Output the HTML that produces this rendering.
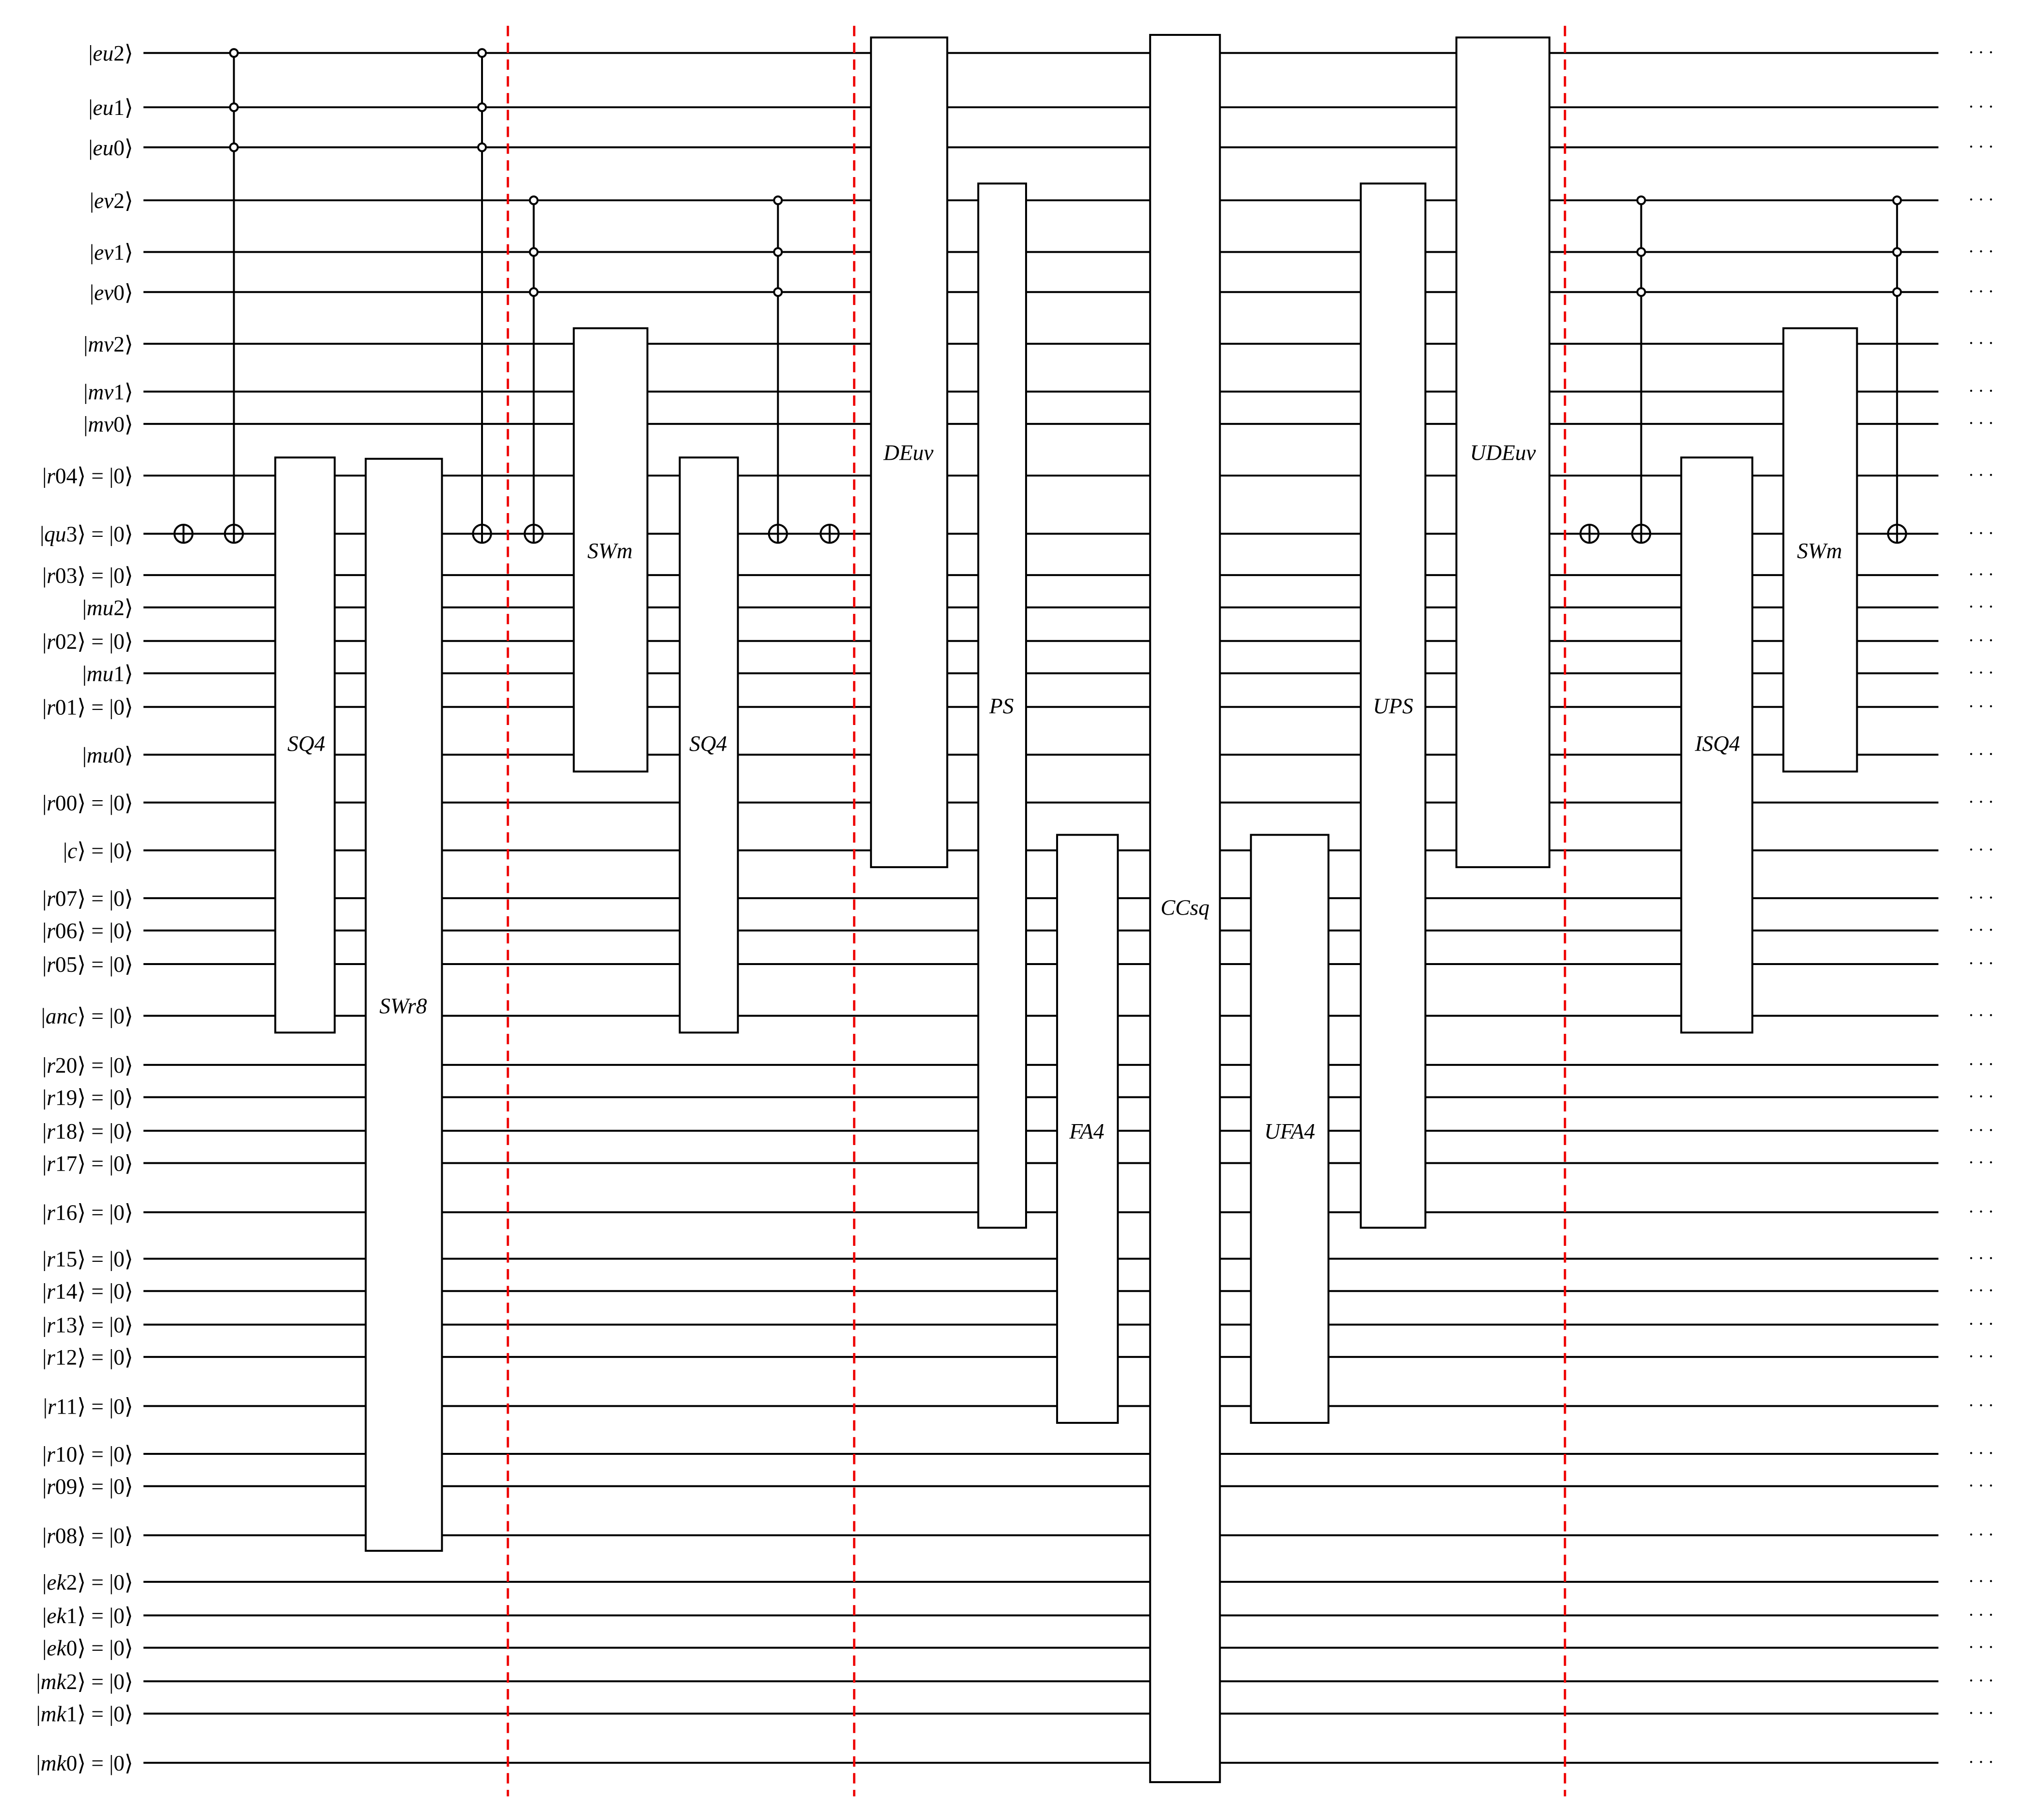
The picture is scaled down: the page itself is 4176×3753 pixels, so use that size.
<!DOCTYPE html>
<html><head><meta charset="utf-8"><style>
html,body{margin:0;padding:0;background:#fff}
svg{display:block}
text{font-family:"Liberation Serif",serif;font-size:17px;fill:#000}
.l{text-anchor:end}
.c{text-anchor:middle}
#ell text{letter-spacing:3px;font-size:14px}
</style></head><body>
<svg id="s" width="4176" height="3753" viewBox="0 0 1567 1408.3" preserveAspectRatio="none" xmlns="http://www.w3.org/2000/svg">
<g id="wires" stroke="#000" stroke-width="1.5"></g>
<g id="shapes"></g>
<g id="labels">
<text class="l" x="103" y="47">|<tspan font-style="italic">eu</tspan>2⟩</text>
<text class="l" x="103" y="89">|<tspan font-style="italic">eu</tspan>1⟩</text>
<text class="l" x="103" y="120">|<tspan font-style="italic">eu</tspan>0⟩</text>
<text class="l" x="103" y="161">|<tspan font-style="italic">ev</tspan>2⟩</text>
<text class="l" x="103" y="201">|<tspan font-style="italic">ev</tspan>1⟩</text>
<text class="l" x="103" y="232">|<tspan font-style="italic">ev</tspan>0⟩</text>
<text class="l" x="103" y="272">|<tspan font-style="italic">mv</tspan>2⟩</text>
<text class="l" x="103" y="309">|<tspan font-style="italic">mv</tspan>1⟩</text>
<text class="l" x="103" y="334">|<tspan font-style="italic">mv</tspan>0⟩</text>
<text class="l" x="103" y="374">|<tspan font-style="italic">r</tspan>04⟩ = |0⟩</text>
<text class="l" x="103" y="419">|<tspan font-style="italic">qu</tspan>3⟩ = |0⟩</text>
<text class="l" x="103" y="451">|<tspan font-style="italic">r</tspan>03⟩ = |0⟩</text>
<text class="l" x="103" y="476">|<tspan font-style="italic">mu</tspan>2⟩</text>
<text class="l" x="103" y="502">|<tspan font-style="italic">r</tspan>02⟩ = |0⟩</text>
<text class="l" x="103" y="527">|<tspan font-style="italic">mu</tspan>1⟩</text>
<text class="l" x="103" y="553">|<tspan font-style="italic">r</tspan>01⟩ = |0⟩</text>
<text class="l" x="103" y="590">|<tspan font-style="italic">mu</tspan>0⟩</text>
<text class="l" x="103" y="627">|<tspan font-style="italic">r</tspan>00⟩ = |0⟩</text>
<text class="l" x="103" y="664">|<tspan font-style="italic">c</tspan>⟩ = |0⟩</text>
<text class="l" x="103" y="701">|<tspan font-style="italic">r</tspan>07⟩ = |0⟩</text>
<text class="l" x="103" y="726">|<tspan font-style="italic">r</tspan>06⟩ = |0⟩</text>
<text class="l" x="103" y="752">|<tspan font-style="italic">r</tspan>05⟩ = |0⟩</text>
<text class="l" x="103" y="792">|<tspan font-style="italic">anc</tspan>⟩ = |0⟩</text>
<text class="l" x="103" y="830">|<tspan font-style="italic">r</tspan>20⟩ = |0⟩</text>
<text class="l" x="103" y="855">|<tspan font-style="italic">r</tspan>19⟩ = |0⟩</text>
<text class="l" x="103" y="881">|<tspan font-style="italic">r</tspan>18⟩ = |0⟩</text>
<text class="l" x="103" y="906">|<tspan font-style="italic">r</tspan>17⟩ = |0⟩</text>
<text class="l" x="103" y="944">|<tspan font-style="italic">r</tspan>16⟩ = |0⟩</text>
<text class="l" x="103" y="980">|<tspan font-style="italic">r</tspan>15⟩ = |0⟩</text>
<text class="l" x="103" y="1005">|<tspan font-style="italic">r</tspan>14⟩ = |0⟩</text>
<text class="l" x="103" y="1031">|<tspan font-style="italic">r</tspan>13⟩ = |0⟩</text>
<text class="l" x="103" y="1056">|<tspan font-style="italic">r</tspan>12⟩ = |0⟩</text>
<text class="l" x="103" y="1094">|<tspan font-style="italic">r</tspan>11⟩ = |0⟩</text>
<text class="l" x="103" y="1131">|<tspan font-style="italic">r</tspan>10⟩ = |0⟩</text>
<text class="l" x="103" y="1156">|<tspan font-style="italic">r</tspan>09⟩ = |0⟩</text>
<text class="l" x="103" y="1194">|<tspan font-style="italic">r</tspan>08⟩ = |0⟩</text>
<text class="l" x="103" y="1230">|<tspan font-style="italic">ek</tspan>2⟩ = |0⟩</text>
<text class="l" x="103" y="1256">|<tspan font-style="italic">ek</tspan>1⟩ = |0⟩</text>
<text class="l" x="103" y="1281">|<tspan font-style="italic">ek</tspan>0⟩ = |0⟩</text>
<text class="l" x="103" y="1307">|<tspan font-style="italic">mk</tspan>2⟩ = |0⟩</text>
<text class="l" x="103" y="1332">|<tspan font-style="italic">mk</tspan>1⟩ = |0⟩</text>
<text class="l" x="103" y="1370">|<tspan font-style="italic">mk</tspan>0⟩ = |0⟩</text>
</g>
<g id="blabels">
<text class="c" x="237" y="581" font-style="italic">SQ4</text>
<text class="c" x="312" y="784" font-style="italic">SWr8</text>
<text class="c" x="472" y="432" font-style="italic">SWm</text>
<text class="c" x="548" y="581" font-style="italic">SQ4</text>
<text class="c" x="703" y="356" font-style="italic">DEuv</text>
<text class="c" x="775" y="552" font-style="italic">PS</text>
<text class="c" x="841" y="881" font-style="italic">FA4</text>
<text class="c" x="917" y="708" font-style="italic">CCsq</text>
<text class="c" x="998" y="881" font-style="italic">UFA4</text>
<text class="c" x="1078" y="552" font-style="italic">UPS</text>
<text class="c" x="1163" y="356" font-style="italic">UDEuv</text>
<text class="c" x="1329" y="581" font-style="italic">ISQ4</text>
<text class="c" x="1408" y="432" font-style="italic">SWm</text>
</g>
<g id="ell">
<text x="1523" y="45">···</text><text x="1523" y="87">···</text><text x="1523" y="118">···</text><text x="1523" y="159">···</text><text x="1523" y="199">···</text><text x="1523" y="230">···</text><text x="1523" y="270">···</text><text x="1523" y="307">···</text><text x="1523" y="332">···</text><text x="1523" y="372">···</text><text x="1523" y="417">···</text><text x="1523" y="449">···</text><text x="1523" y="474">···</text><text x="1523" y="500">···</text><text x="1523" y="525">···</text><text x="1523" y="551">···</text><text x="1523" y="588">···</text><text x="1523" y="625">···</text><text x="1523" y="662">···</text><text x="1523" y="699">···</text><text x="1523" y="724">···</text><text x="1523" y="750">···</text><text x="1523" y="790">···</text><text x="1523" y="828">···</text><text x="1523" y="853">···</text><text x="1523" y="879">···</text><text x="1523" y="904">···</text><text x="1523" y="942">···</text><text x="1523" y="978">···</text><text x="1523" y="1003">···</text><text x="1523" y="1029">···</text><text x="1523" y="1054">···</text><text x="1523" y="1092">···</text><text x="1523" y="1129">···</text><text x="1523" y="1154">···</text><text x="1523" y="1192">···</text><text x="1523" y="1228">···</text><text x="1523" y="1254">···</text><text x="1523" y="1279">···</text><text x="1523" y="1305">···</text><text x="1523" y="1330">···</text><text x="1523" y="1368">···</text>
</g>
</svg>
<script>
var NS="http://www.w3.org/2000/svg";
var Y=[41,83,114,155,195,226,266,303,328,368,413,445,470,496,521,547,584,621,658,695,720,746,786,824,849,875,900,938,974,999,1025,1050,1088,1125,1150,1188,1224,1250,1275,1301,1326,1364];
function el(p,t,a){var e=document.createElementNS(NS,t);for(var k in a)e.setAttribute(k,a[k]);p.appendChild(e);return e;}
var W=document.getElementById('wires'),S=document.getElementById('shapes');
Y.forEach(function(y){el(W,'line',{x1:111,y1:y,x2:1500,y2:y});});
[393,661,1211].forEach(function(x){el(S,'line',{x1:x,y1:20,x2:x,y2:1390,stroke:'#e00',"stroke-width":1.8,"stroke-dasharray":"8,5"});});
function box(x1,y1,x2,y2){el(S,'rect',{x:x1,y:y1,width:x2-x1,height:y2-y1,fill:'#fff',stroke:'#000',"stroke-width":1.5});}
box(213,354,259,799);box(283,355,342,1200);box(444,254,501,597);box(526,354,571,799);
box(674,29,733,671);box(757,142,794,950);box(818,646,865,1101);box(890,27,944,1379);
box(968,646,1028,1101);box(1053,142,1103,950);box(1127,29,1199,671);box(1301,354,1356,799);box(1380,254,1437,597);
function xg(x,y){el(S,'circle',{cx:x,cy:y,r:7,fill:'#fff',stroke:'#000',"stroke-width":1.5});
el(S,'line',{x1:x-7,y1:y,x2:x+7,y2:y,stroke:'#000',"stroke-width":1.5});el(S,'line',{x1:x,y1:y-7,x2:x,y2:y+7,stroke:'#000',"stroke-width":1.5});}
function cn(x,cs){var t=413;el(S,'line',{x1:x,y1:cs[0],x2:x,y2:t,stroke:'#000',"stroke-width":1.5});
cs.forEach(function(c){el(S,'circle',{cx:x,cy:c,r:3,fill:'#fff',stroke:'#000',"stroke-width":1.5});});xg(x,t);}
var EU=[41,83,114],EV=[155,195,226];
xg(142,413);cn(181,EU);cn(373,EU);cn(413,EV);cn(602,EV);xg(642,413);xg(1230,413);cn(1270,EV);cn(1468,EV);
var s=document.getElementById('s');s.appendChild(document.getElementById('blabels'));
</script>
</body></html>
